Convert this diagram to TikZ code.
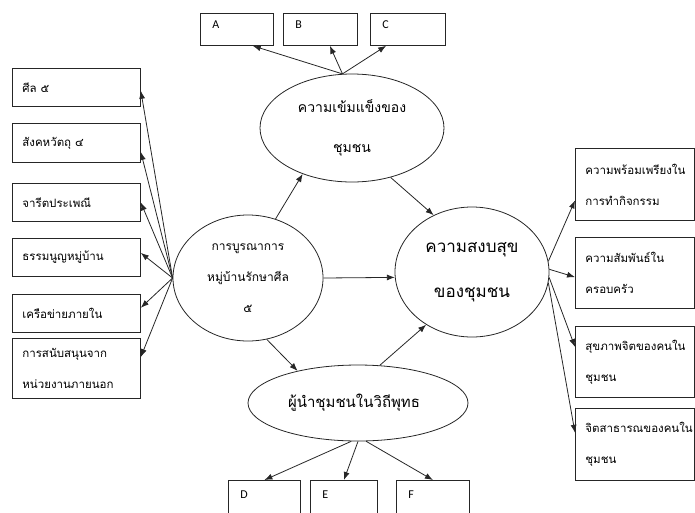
\documentclass[tikz,border=0pt]{standalone}
\usepackage{fontspec}
\newfontfamily\thaifont[Script=Thai]{Loma}
\newfontfamily\latinfont{Carlito}
\usetikzlibrary{arrows.meta,shapes.geometric}

\begin{document}
\begin{tikzpicture}[x=1pt,y=-1pt,
	box/.style={draw=black!85, line width=0.8pt, anchor=north west, inner xsep=10pt, inner ysep=0pt, align=left,
		font=\thaifont\fontsize{11.5}{31}\selectfont},
	letterbox/.style={draw=black!85, line width=0.8pt, anchor=north west, inner xsep=12pt, inner ysep=3pt, align=left,
		font=\latinfont\fontsize{12}{13}\selectfont, text height=12pt, text depth=14pt},
	oval/.style={ellipse, draw=black!85, line width=0.8pt, inner sep=0pt, align=center},
	arr/.style={draw=black!85, line width=0.8pt, -{Latex[length=8pt,width=6pt]}}]
	\useasboundingbox (0,0) rectangle (695,512);
	\clip (0,0) rectangle (695,512);
	% ellipses
	\node[oval, minimum width=150, minimum height=126, font=\thaifont\fontsize{12}{31}\selectfont] (village) at (248,278) {การบูรณาการ\\หมู่บ้านรักษาศีล\\๕};
	\node[oval, minimum width=184, minimum height=108, font=\thaifont\fontsize{14}{40}\selectfont] (strength) at (352,128) {ความเข้มแข็งของ\\ชุมชน};
	\node[oval, minimum width=154, minimum height=130, font=\thaifont\fontsize{17}{45}\selectfont] (peace) at (472,272) {ความสงบสุข\\ของชุมชน};
	\node[oval, minimum width=220, minimum height=76, font=\thaifont\fontsize{15}{18}\selectfont] (leader) at (358,403) {ผู้นำชุมชนในวิถีพุทธ\hspace*{8pt}};
	% left boxes
	\node[box, text width=108, minimum height=38] (sila) at (12,68) {ศีล ๕};
	\node[box, text width=108, minimum height=39] (sangaha) at (12,123) {สังคหวัตถุ ๔};
	\node[box, text width=108, minimum height=38] (custom) at (12,183) {จารีตประเพณี};
	\node[box, text width=108, minimum height=38] (charter) at (12,238) {ธรรมนูญหมู่บ้าน};
	\node[box, text width=108, minimum height=38] (network) at (12,294) {เครือข่ายภายใน};
	\node[box, text width=108, minimum height=60] (support) at (12,338) {การสนับสนุนจาก\\หน่วยงานภายนอก};
	% right boxes
	\node[box, text width=99, minimum height=72] (ready) at (575,148) {ความพร้อมเพรียงใน\\การทำกิจกรรม};
	\node[box, text width=99, minimum height=71] (family) at (575,237) {ความสัมพันธ์ใน\\ครอบครัว};
	\node[box, text width=99, minimum height=71] (mind) at (575,326) {สุขภาพจิตของคนใน\\ชุมชน};
	\node[box, text width=99, minimum height=72] (public) at (575,408) {จิตสาธารณของคนใน\\ชุมชน};
	% top and bottom boxes
	\node[letterbox, text width=49] (A) at (200,13) {A};
	\node[letterbox, text width=50] (B) at (283,13) {B};
	\node[letterbox, text width=51] (C) at (370,13) {C};
	\node[letterbox, text width=48, text height=15pt, text depth=29pt] (D) at (228,480) {D};
	\node[letterbox, text width=43, text height=15pt, text depth=29pt] (E) at (310,480) {E};
	\node[letterbox, text width=49, text height=15pt, text depth=29pt] (F) at (396,480) {F};
	% arrows
	\draw[arr] (village.west) -- (sila.-3);
	\draw[arr] (village.west) -- (sangaha.-8);
	\draw[arr] (village.west) -- (custom.east);
	\draw[arr] (village.west) -- (charter.4);
	\draw[arr] (village.west) -- (network.5);
	\draw[arr] (village.west) -- (support.10);
	\draw[arr] (village.65) -- (strength.223);
	\draw[arr] (village.east) -- (peace.184);
	\draw[arr] (village.287) -- (leader.152);
	\draw[arr] (strength.308) -- (peace.124);
	\draw[arr] (leader.60) -- (peace.229);
	\draw[arr] (strength.100) -- (A.-46);
	\draw[arr] (strength.100) -- (B.-60);
	\draw[arr] (strength.100) -- (C.-143);
	\draw[arr] (leader.260) -- (D.north);
	\draw[arr] (leader.270) -- (E.north);
	\draw[arr] (leader.282) -- (F.north);
	\draw[arr] (peace.8) -- (ready.195);
	\draw[arr] (peace.2) -- (family.184);
	\draw[arr] (peace.356) -- (mind.166);
	\draw[arr] (peace.352) -- (public.169);
\end{tikzpicture}
\end{document}
